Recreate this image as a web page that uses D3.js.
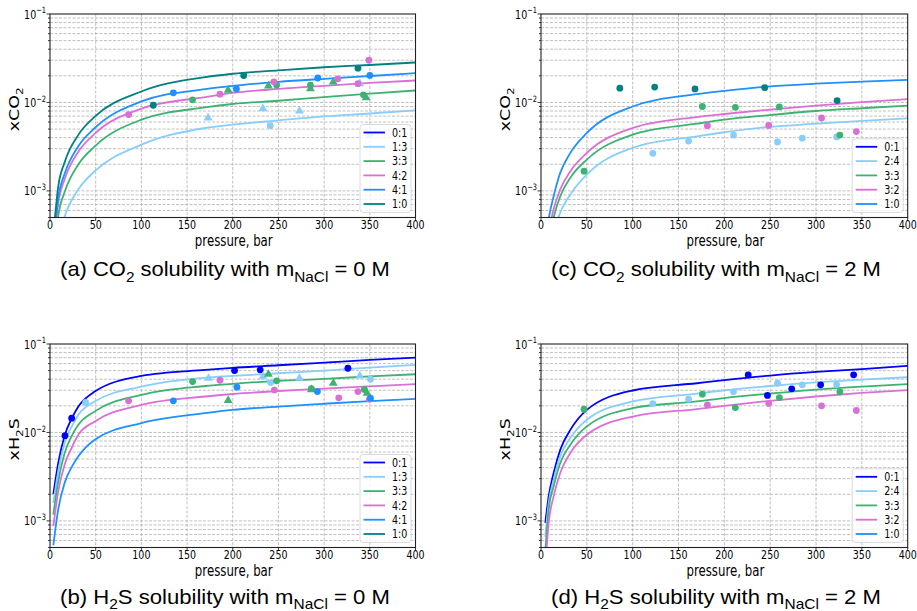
<!DOCTYPE html>
<html><head><meta charset="utf-8">
<script src="https://cdn.jsdelivr.net/npm/d3@7"></script>
<style>body{margin:0;background:#fff}svg{display:block}</style>
</head><body>
<svg id="chart" width="917" height="611"></svg>
<script>
// ---------------- DATA ----------------
const xTicks = [0, 50, 100, 150, 200, 250, 300, 350, 400];
const yMajor = [1e-3, 1e-2, 1e-1];
const yTickLabels = ["\u22123", "\u22122", "\u22121"];

const legendA = ["0:1", "1:3", "3:3", "4:2", "4:1", "1:0"];
const legendC = ["0:1", "2:4", "3:3", "3:2", "1:0"];

// (a) CO2, 0 M  -- model curves
const pA = [3, 9, 16, 31, 49, 100, 170, 200, 250, 300, 350, 400];
const a_13 = [6.3e-5, 2.7e-4, 5.1e-4, 1.04e-3, 1.67e-3, 3.33e-3, 5.14e-3, 5.6e-3, 6.26e-3, 6.95e-3, 7.5e-3, 8.13e-3];
const a_33 = [1.2e-4, 5.2e-4, 9.7e-4, 1.99e-3, 3.19e-3, 6.38e-3, 8.79e-3, 9.6e-3, 0.01045, 0.0115, 0.0126, 0.01365];
const a_42 = [1.67e-4, 7.2e-4, 1.35e-3, 2.77e-3, 4.44e-3, 8.5e-3, 0.0115, 0.0128, 0.0142, 0.0154, 0.0166, 0.0177];
const a_41 = [1.94e-4, 8.3e-4, 1.56e-3, 3.2e-3, 5.14e-3, 0.01026, 0.01416, 0.0154, 0.0171, 0.0185, 0.0199, 0.0214];
const a_10 = [2.6e-4, 1.12e-3, 2.1e-3, 4.3e-3, 6.9e-3, 0.0133, 0.0193, 0.0211, 0.0231, 0.025, 0.0265, 0.0283];
// (a) measurements [pressure, x]
const a_pts_13c = [[241, 0.00546], [350, 0.0043]];
const a_pts_13t = [[173, 0.0067], [233, 0.0085], [273, 0.0080], [339, 0.0163]];
const a_pts_33c = [[156, 0.0107], [248, 0.0157], [285, 0.0157], [343, 0.0122]];
const a_pts_33t = [[195, 0.0138], [239, 0.0154], [285, 0.0143], [310, 0.0170], [346, 0.0113]];
const a_pts_42c = [[86, 0.0073], [186, 0.0124], [245, 0.0171], [315, 0.0185], [337, 0.0163], [349, 0.0300]];
const a_pts_41c = [[135, 0.01285], [204, 0.0142], [293, 0.0189], [350, 0.0202]];
const a_pts_10c = [[113, 0.0093], [212, 0.0201], [337, 0.0244]];

// (b) H2S, 0 M
const pB = [3.65, 9, 16, 24, 31, 49, 100, 170, 200, 250, 300, 350, 400];
const b_01 = [0.002, 0.0045, 0.0092, 0.0145, 0.0196, 0.029, 0.0435, 0.0509, 0.0537, 0.0575, 0.0616, 0.066, 0.0702];
const b_13 = [0.0016, 0.00363, 0.0076, 0.0118, 0.0158, 0.0224, 0.033, 0.0417, 0.0436, 0.0467, 0.050, 0.054, 0.058];
const b_33 = [0.00118, 0.0028, 0.00586, 0.0092, 0.0122, 0.0173, 0.0266, 0.0335, 0.0355, 0.0383, 0.0403, 0.043, 0.0455];
const b_42 = [8.7e-4, 0.00216, 0.00432, 0.0068, 0.0094, 0.0133, 0.0205, 0.0255, 0.0272, 0.0294, 0.0313, 0.0332, 0.0351];
const b_41 = [5.3e-4, 0.00135, 0.00269, 0.0041, 0.00537, 0.00828, 0.01277, 0.01655, 0.018, 0.0196, 0.0211, 0.0226, 0.024];
const b_pts_01c = [[16.4, 0.0092], [23.7, 0.0145], [202, 0.0501], [230, 0.051], [326, 0.0532]];
const b_pts_13c = [[39, 0.0218], [241.5, 0.0366], [350.7, 0.040]];
const b_pts_13t = [[173.5, 0.041], [233, 0.0428], [273, 0.041], [339, 0.0436]];
const b_pts_33c = [[156, 0.0376], [248, 0.0383], [286, 0.0313], [344, 0.0306]];
const b_pts_33t = [[195, 0.023], [239, 0.0455], [286, 0.0305], [310, 0.036], [347, 0.0278]];
const b_pts_42c = [[86, 0.0228], [186, 0.0389], [245.5, 0.0301], [316, 0.0246], [337, 0.029], [349.6, 0.0238]];
const b_pts_41c = [[135, 0.0228], [204.6, 0.0325], [292.6, 0.029], [350.7, 0.0244]];

// (c) CO2, 2 M
const pC = [4, 8.4, 13.8, 21, 32, 50, 100, 170, 200, 250, 300, 350, 400];
const c_24 = [6e-5, 1.7e-4, 3.3e-4, 5.7e-4, 9.1e-4, 1.53e-3, 3.06e-3, 4.14e-3, 4.6e-3, 5.3e-3, 5.75e-3, 6.2e-3, 6.6e-3];
const c_33 = [1.1e-4, 2.6e-4, 5.0e-4, 8.7e-4, 1.41e-3, 2.26e-3, 4.32e-3, 5.75e-3, 6.4e-3, 7.2e-3, 8.0e-3, 8.6e-3, 9.2e-3];
const c_32 = [1.3e-4, 3.3e-4, 6.2e-4, 1.04e-3, 1.67e-3, 2.69e-3, 5.14e-3, 6.84e-3, 7.4e-3, 8.3e-3, 9.2e-3, 0.0101, 0.0109];
const c_10 = [2e-4, 4.8e-4, 8.7e-4, 1.6e-3, 2.69e-3, 4.52e-3, 9.0e-3, 0.0124, 0.0135, 0.0152, 0.0163, 0.0172, 0.018];
const c_pts_24c = [[122, 0.00266], [161, 0.00366], [210, 0.00428], [258, 0.00357], [285, 0.00394], [322.5, 0.00407]];
const c_pts_33c = [[47, 0.00167], [176, 0.0090], [212, 0.0088], [260, 0.0089], [326, 0.00428]];
const c_pts_32c = [[181.5, 0.00546], [248.4, 0.0055], [306, 0.00667], [344, 0.00468]];
const c_pts_10c = [[86, 0.0145], [124, 0.0149], [168, 0.0142], [244, 0.0147], [323, 0.0105]];

// (d) H2S, 2 M
const pD = [4.7, 8.4, 13.8, 21, 32, 50, 100, 170, 200, 250, 300, 350, 400];
const d_01 = [9.5e-4, 0.0019, 0.00348, 0.00638, 0.0107, 0.018, 0.0298, 0.036, 0.039, 0.044, 0.0483, 0.052, 0.0565];
const d_24 = [6.6e-4, 0.0016, 0.00293, 0.00537, 0.00865, 0.0139, 0.0224, 0.0275, 0.030, 0.0335, 0.0368, 0.0395, 0.0421];
const d_33 = [4.5e-4, 0.00135, 0.00246, 0.00452, 0.00726, 0.0117, 0.0188, 0.0224, 0.0245, 0.0275, 0.0305, 0.033, 0.0351];
const d_32 = [3e-4, 9.5e-4, 0.0019, 0.00348, 0.00586, 0.0094, 0.0151, 0.0184, 0.020, 0.0228, 0.0255, 0.028, 0.0301];
const d_pts_01c = [[226, 0.0448], [247, 0.0262], [273.5, 0.0311], [305, 0.0345], [341, 0.0448]];
const d_pts_24c = [[122, 0.0212], [161, 0.0238], [210, 0.0288], [258, 0.036], [285, 0.0345], [322.5, 0.0348]];
const d_pts_33c = [[47, 0.0183], [176, 0.0271], [212, 0.0191], [260, 0.0248], [326, 0.0288]];
const d_pts_32c = [[181.5, 0.0205], [248.4, 0.0212], [306, 0.020], [344, 0.0177]];

// ---------------- STYLE / LAYOUT ----------------
const C = {blue: "#0000ff", light: "#87cefa", green: "#3cb371", orchid: "#da70d6", dodger: "#1e90ff", teal: "#008080"};
const colsA = [C.blue, C.light, C.green, C.orchid, C.dodger, C.teal];
const colsC = [C.blue, C.light, C.green, C.orchid, C.dodger];
const SX = 0.76; // horizontal squeeze of the whole original figure
const TICKF = "DejaVu Sans";
const CAPF = "Liberation Sans";

const panels = [
  {x0: 50, x1: 415.5, y0: 14, y1: 217.5, gas: "CO", p: pA,
   lines: [[a_13, C.light], [a_33, C.green], [a_42, C.orchid], [a_41, C.dodger], [a_10, C.teal]],
   pts: [[a_pts_13c, C.light, "c"], [a_pts_13t, C.light, "t"], [a_pts_33c, C.green, "c"], [a_pts_33t, C.green, "t"],
         [a_pts_42c, C.orchid, "c"], [a_pts_41c, C.dodger, "c"], [a_pts_10c, C.teal, "c"]],
   leg: legendA, legc: colsA, cap: ["(a) CO", "2", " solubility with m", "NaCl", " = 0 M"], capX: 225, capY: 276, capW: 330},
  {x0: 541, x1: 907.7, y0: 14, y1: 217.5, gas: "CO", p: pC,
   lines: [[c_24, C.light], [c_33, C.green], [c_32, C.orchid], [c_10, C.dodger]],
   pts: [[c_pts_24c, C.light, "c"], [c_pts_33c, C.green, "c"], [c_pts_32c, C.orchid, "c"], [c_pts_10c, C.teal, "c"]],
   leg: legendC, legc: colsC, cap: ["(c) CO", "2", " solubility with m", "NaCl", " = 2 M"], capX: 716, capY: 276, capW: 330},
  {x0: 50, x1: 415.5, y0: 344, y1: 547.5, gas: "H", p: pB,
   lines: [[b_01, C.blue], [b_13, C.light], [b_33, C.green], [b_42, C.orchid], [b_41, C.dodger]],
   pts: [[b_pts_01c, C.blue, "c"], [b_pts_13c, C.light, "c"], [b_pts_13t, C.light, "t"], [b_pts_33c, C.green, "c"],
         [b_pts_33t, C.green, "t"], [b_pts_42c, C.orchid, "c"], [b_pts_41c, C.dodger, "c"]],
   leg: legendA, legc: colsA, cap: ["(b) H", "2", "S solubility with m", "NaCl", " = 0 M"], capX: 225, capY: 603.5, capW: 330},
  {x0: 541, x1: 907.7, y0: 344, y1: 547.5, gas: "H", p: pD,
   lines: [[d_01, C.blue], [d_24, C.light], [d_33, C.green], [d_32, C.orchid]],
   pts: [[d_pts_01c, C.blue, "c"], [d_pts_24c, C.light, "c"], [d_pts_33c, C.green, "c"], [d_pts_32c, C.orchid, "c"]],
   leg: legendC, legc: colsC, cap: ["(d) H", "2", "S solubility with m", "NaCl", " = 2 M"], capX: 716, capY: 603.5, capW: 330}
];

const svg = d3.select("#chart");

// text helper: parts are [string, kind] with kind '', 'sub' or 'sup'
function addText(parent, x, y, parts, opt) {
  const g = parent.append("g").attr("transform", `translate(${x},${y}) scale(${opt.sx ?? SX},1)` + (opt.rot ? ` rotate(${opt.rot})` : ""));
  const t = g.append("text").attr("font-family", opt.font || TICKF).attr("font-size", opt.size)
    .attr("text-anchor", opt.anchor || "start").attr("fill", opt.fill || "#000");
  let cur = 0;
  parts.forEach(([s, kind]) => {
    const sh = kind === "sub" ? 0.28 : kind === "sup" ? -0.42 : 0;
    const ts = t.append("tspan").text(s);
    if (sh !== cur) ts.attr("dy", ((sh - cur) * opt.size).toFixed(2));
    if (kind) ts.attr("font-size", opt.size * 0.7);
    cur = sh;
  });
  return {g, t};
}

panels.forEach((P, i) => {
  const x = d3.scaleLinear().domain([0, 400]).range([P.x0, P.x1]);
  const y = d3.scaleLog().domain([5e-4, 1e-1]).range([P.y1, P.y0]);
  const g = svg.append("g");
  const clipId = "clip" + i;
  svg.append("clipPath").attr("id", clipId).append("rect")
    .attr("x", P.x0).attr("y", P.y0).attr("width", P.x1 - P.x0).attr("height", P.y1 - P.y0);

  // grid
  const minor = [];
  [-4, -3, -2].forEach(e => { for (let k = 1; k <= 9; k++) { const v = k * Math.pow(10, e); if (v > 5e-4 * 0.999 && v < 0.1) minor.push(v); } });
  const grid = g.append("g").attr("stroke", "#b0b0b0").attr("stroke-width", 0.8).attr("stroke-dasharray", "3,1.5");
  grid.selectAll(".hg").data(minor).join("line").attr("x1", P.x0).attr("x2", P.x1)
    .attr("y1", d => y(d)).attr("y2", d => y(d));
  grid.selectAll(".vg").data(xTicks.slice(1, -1)).join("line").attr("y1", P.y0).attr("y2", P.y1)
    .attr("x1", d => x(d)).attr("x2", d => x(d));

  // curves
  const line = d3.line().x((d, j) => x(P.p[j])).y(d => y(d)).curve(d3.curveMonotoneX);
  const lg = g.append("g").attr("clip-path", `url(#${clipId})`).attr("fill", "none").attr("stroke-width", 1.8);
  P.lines.forEach(([vals, col]) => lg.append("path").attr("d", line(vals)).attr("stroke", col));

  // points
  const pg = g.append("g").attr("clip-path", `url(#${clipId})`);
  const tri = d3.symbol(d3.symbolTriangle, 34);
  P.pts.forEach(([arr, col, kind]) => {
    if (kind === "c") pg.selectAll(null).data(arr).join("circle").attr("cx", d => x(d[0])).attr("cy", d => y(d[1])).attr("r", 3.4).attr("fill", col);
    else pg.selectAll(null).data(arr).join("path").attr("d", tri).attr("transform", d => `translate(${x(d[0])},${y(d[1])})`).attr("fill", col);
  });

  // frame
  g.append("rect").attr("x", P.x0).attr("y", P.y0).attr("width", P.x1 - P.x0).attr("height", P.y1 - P.y0)
    .attr("fill", "none").attr("stroke", "#222").attr("stroke-width", 1.1);

  // ticks
  const tk = g.append("g").attr("stroke", "#222").attr("stroke-width", 0.9);
  tk.selectAll(".xt").data(xTicks).join("line").attr("x1", d => x(d)).attr("x2", d => x(d)).attr("y1", P.y1).attr("y2", P.y1 + 3.5);
  tk.selectAll(".ym").data(yMajor).join("line").attr("x1", P.x0 - 3.5).attr("x2", P.x0).attr("y1", d => y(d)).attr("y2", d => y(d));
  tk.selectAll(".yn").data(minor.filter(v => !yMajor.includes(v))).join("line").attr("x1", P.x0 - 2).attr("x2", P.x0).attr("y1", d => y(d)).attr("y2", d => y(d));
  xTicks.forEach(v => addText(g, x(v), P.y1 + 11, [[String(v)]], {size: 12.5, anchor: "middle"}));
  yMajor.forEach((v, j) => addText(g, P.x0 - 4, y(v) + 4.5, [["10"], [yTickLabels[j], "sup"]], {size: 12.5, anchor: "end"}));

  // axis labels
  addText(g, (P.x0 + P.x1) / 2 + 1, P.y1 + 28, [["pressure, bar"]], {size: 15.5, anchor: "middle"});
  const ylab = P.gas === "CO" ? [["xCO"], ["2", "sub"]] : [["xH"], ["2", "sub"], ["S"]];
  addText(g, P.x0 - 31, (P.y0 + P.y1) / 2 - 6.5, ylab, {size: 17.5, anchor: "middle", rot: -90});

  // legend
  const n = P.leg.length, bw = 51, bh = 8 + (n - 1) * 14.3 + 8.5;
  const bx = P.x1 - 4.5 - bw, by = P.y1 - 5 - bh;
  const L = g.append("g");
  L.append("rect").attr("x", bx).attr("y", by).attr("width", bw).attr("height", bh).attr("rx", 3)
    .attr("fill", "#fff").attr("fill-opacity", 0.8).attr("stroke", "#d6d6d6").attr("stroke-width", 0.9);
  P.leg.forEach((lab, j) => {
    const yy = by + 8 + j * 14.3;
    L.append("line").attr("x1", bx + 3.5).attr("x2", bx + 25).attr("y1", yy).attr("y2", yy).attr("stroke", P.legc[j]).attr("stroke-width", 1.8);
    addText(L, bx + 32, yy + 4.3, [[lab]], {size: 12.5, anchor: "start"});
  });

  // caption
  const cp = P.cap;
  const res = addText(svg, P.capX, P.capY, [[cp[0]], [cp[1], "sub"], [cp[2]], [cp[3], "sub"], [cp[4]]], {size: 20, anchor: "middle", font: CAPF, sx: 1});
  const w = res.t.node().getBBox().width;
  res.g.attr("transform", `translate(${P.capX},${P.capY}) scale(${P.capW / w},1)`);
});
</script>
</body></html>
